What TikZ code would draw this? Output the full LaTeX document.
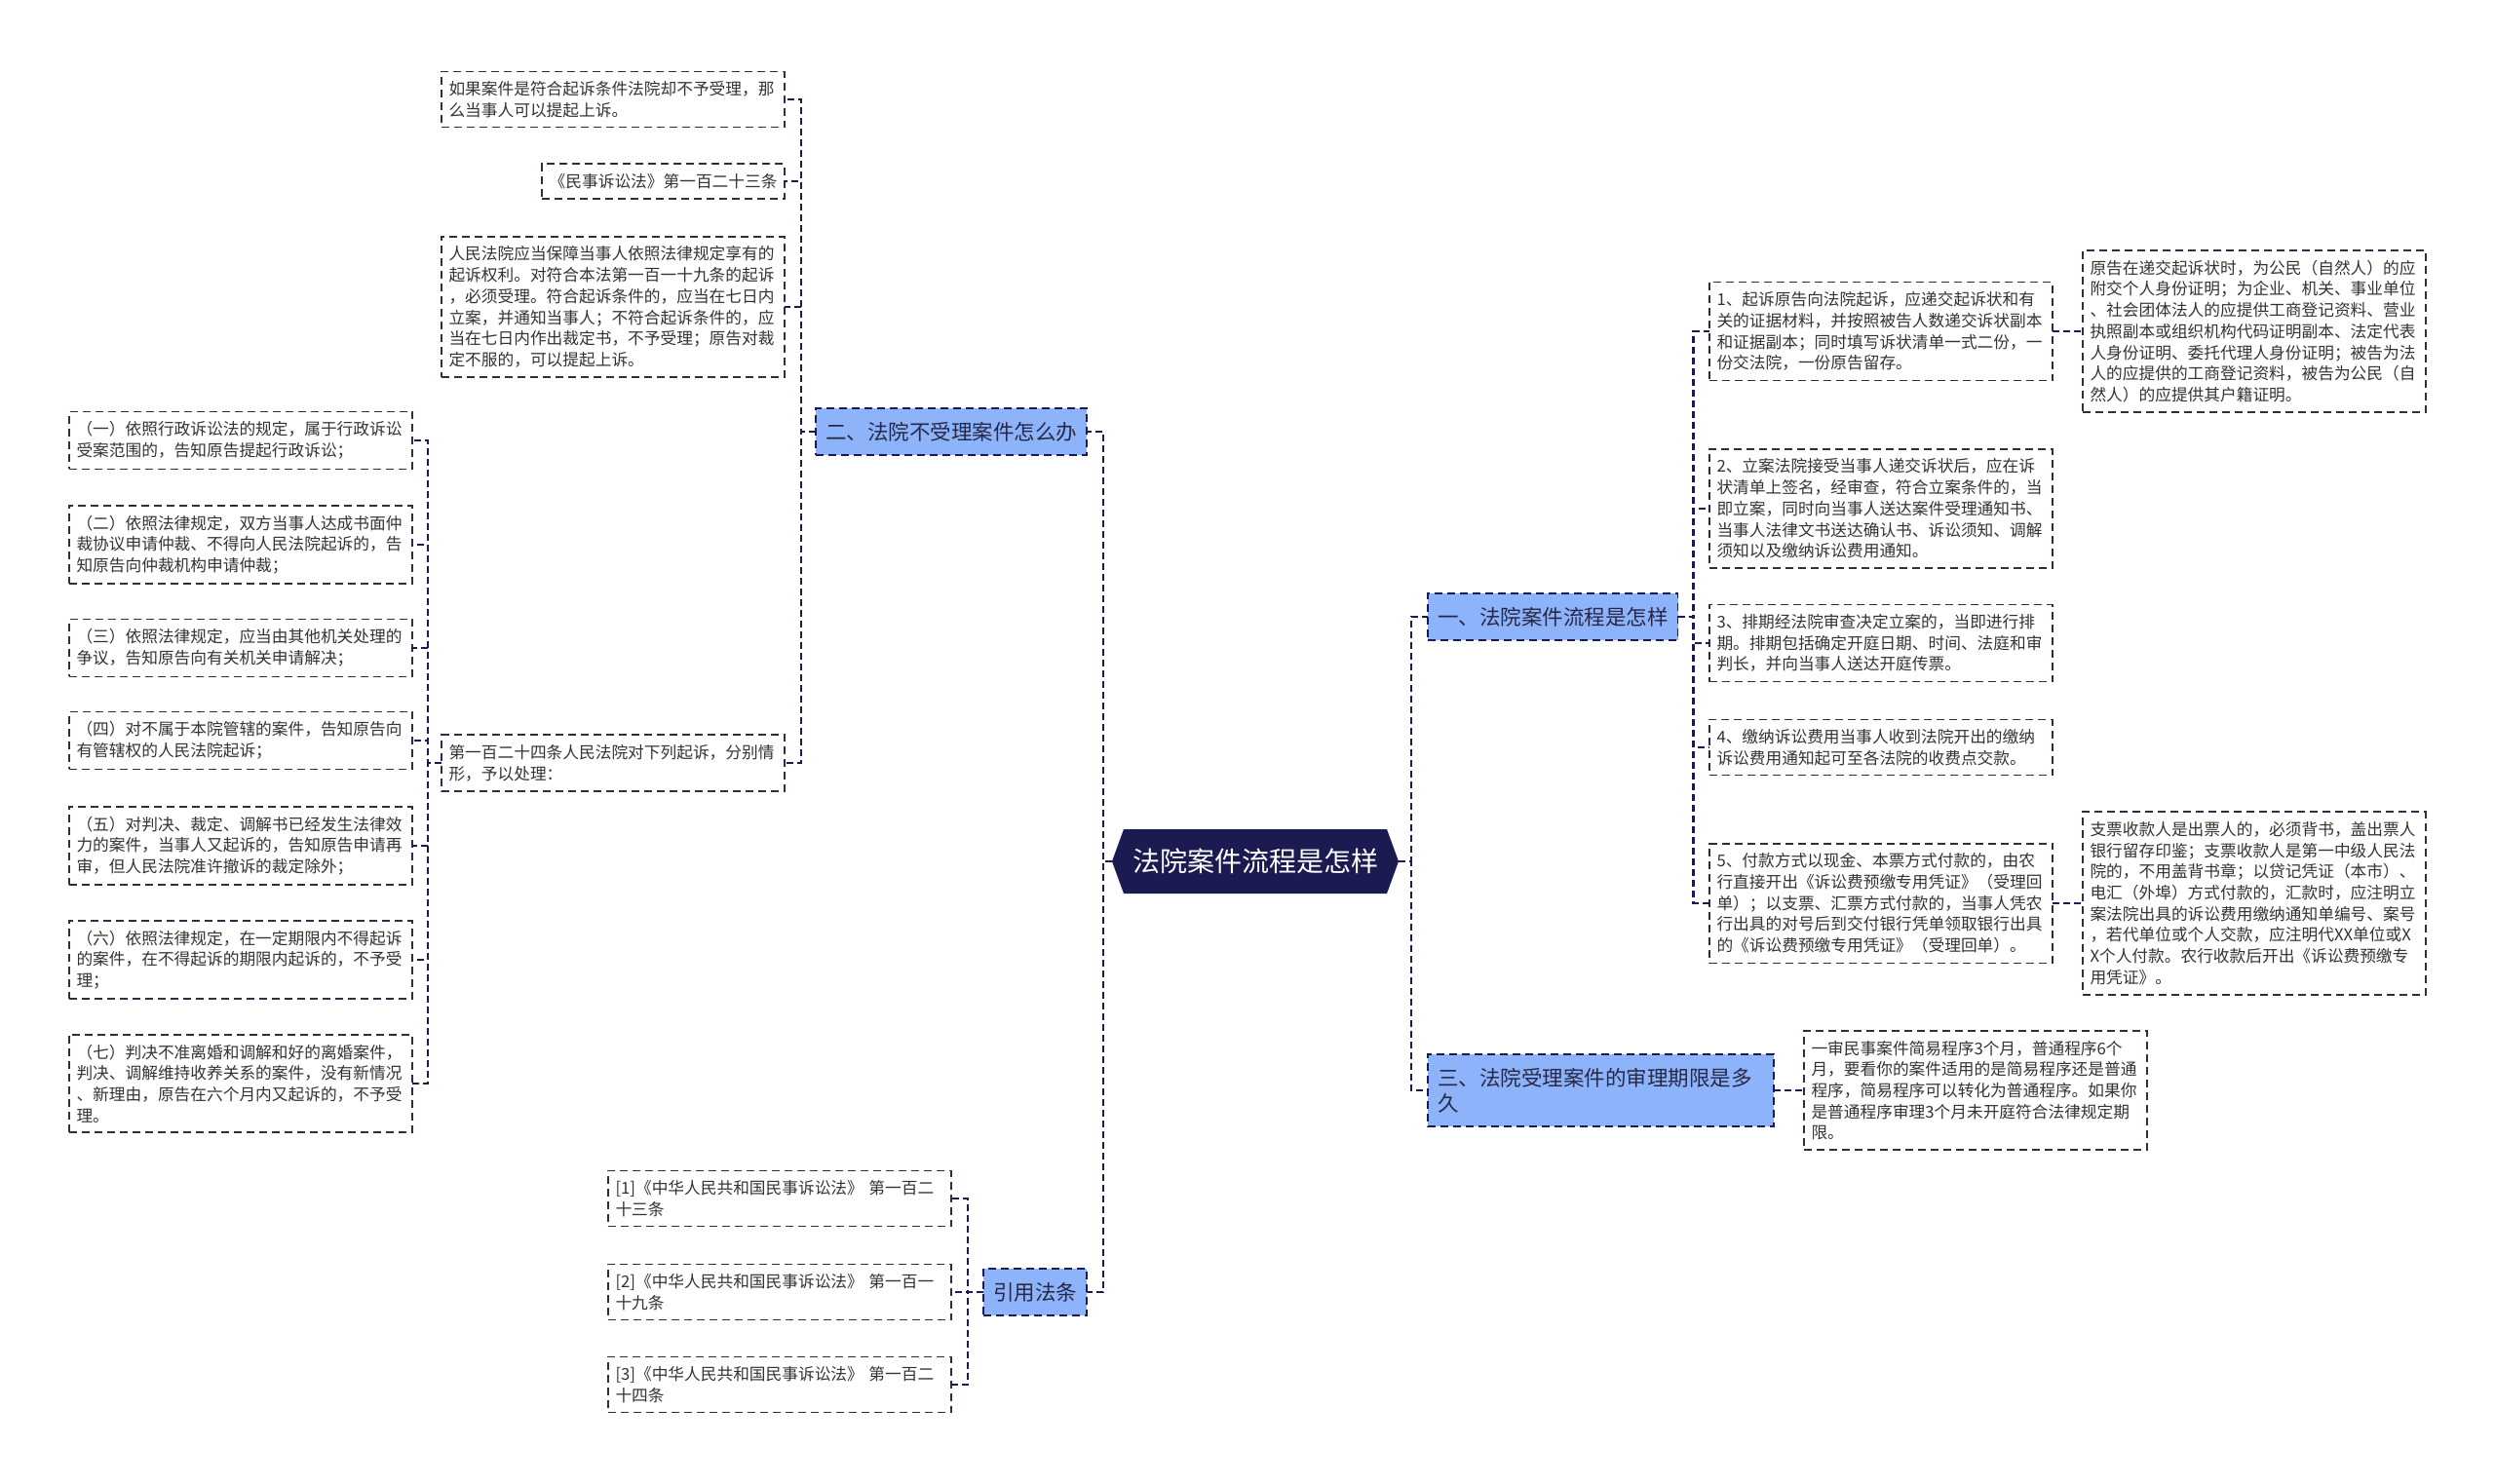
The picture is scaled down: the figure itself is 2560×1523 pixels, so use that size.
\documentclass[tikz,border=0pt]{standalone}
\usepackage{fontspec}
\newfontfamily\cjk{Noto Sans CJK SC}
\usetikzlibrary{positioning,shapes.symbols}
\definecolor{navy}{RGB}{27,27,82}
\definecolor{branchblue}{RGB}{141,179,250}
\definecolor{leafline}{RGB}{45,45,70}
\definecolor{leaftext}{RGB}{51,51,51}
\definecolor{branchtext}{RGB}{40,40,70}

\begin{document}
\begin{tikzpicture}[x=1pt,y=-1pt,
  shortleaf/.style={draw=leafline,line width=1.6pt,dash pattern=on 8pt off 5pt,fill=white,align=left,
    inner xsep=7.5pt,inner ysep=10pt,outer sep=0pt,text=leaftext,font=\cjk\fontsize{16.7}{21.7}\selectfont},
  leaf/.style={shortleaf,text width=337pt},
  branch/.style={draw=navy,line width=1.8pt,dash pattern=on 8pt off 5pt,fill=branchblue,align=left,
    inner xsep=10pt,inner ysep=14pt,outer sep=0pt,text=branchtext,font=\cjk\fontsize{21.5}{26}\selectfont},
  rootnode/.style={signal,signal to=west and east,signal pointer angle=140,fill=navy,text=white,
    inner xsep=9pt,inner ysep=20pt,outer sep=0pt,font=\cjk\fontsize{28}{32}\selectfont},
  link/.style={draw=navy,line width=2.4pt,dash pattern=on 7pt off 4pt}]
\fill[white] (0,0) rectangle (2560,1523);
\useasboundingbox (0,0) rectangle (2560,1523);

% centre and main branches
\node[rootnode] (root) at (1288,884) {法院案件流程是怎样};
\node[branch,anchor=west] (b1) at (1465,633) {一、法院案件流程是怎样};
\node[branch,anchor=east] (b2) at (1115,443) {二、法院不受理案件怎么办};
\node[branch,anchor=west,text width=335pt] (b3) at (1465,1119) {三、法院受理案件的审理期限是多\\久};
\node[branch,anchor=east] (b4) at (1115,1326) {引用法条};

% branch 1
\node[leaf,anchor=west] (s1) at (1754,340) {1、起诉原告向法院起诉，应递交起诉状和有\\关的证据材料，并按照被告人数递交诉状副本\\和证据副本；同时填写诉状清单一式二份，一\\份交法院，一份原告留存。};
\node[leaf,anchor=west] (s2) at (1754,522) {2、立案法院接受当事人递交诉状后，应在诉\\状清单上签名，经审查，符合立案条件的，当\\即立案，同时向当事人送达案件受理通知书、\\当事人法律文书送达确认书、诉讼须知、调解\\须知以及缴纳诉讼费用通知。};
\node[leaf,anchor=west] (s3) at (1754,660) {3、排期经法院审查决定立案的，当即进行排\\期。排期包括确定开庭日期、时间、法庭和审\\判长，并向当事人送达开庭传票。};
\node[leaf,anchor=west] (s4) at (1754,767) {4、缴纳诉讼费用当事人收到法院开出的缴纳\\诉讼费用通知起可至各法院的收费点交款。};
\node[leaf,anchor=west] (s5) at (1754,927) {5、付款方式以现金、本票方式付款的，由农\\行直接开出《诉讼费预缴专用凭证》（受理回\\单）；以支票、汇票方式付款的，当事人凭农\\行出具的对号后到交付银行凭单领取银行出具\\的《诉讼费预缴专用凭证》（受理回单）。};
\node[leaf,anchor=west] (r1) at (2137,340) {原告在递交起诉状时，为公民（自然人）的应\\附交个人身份证明；为企业、机关、事业单位\\、社会团体法人的应提供工商登记资料、营业\\执照副本或组织机构代码证明副本、法定代表\\人身份证明、委托代理人身份证明；被告为法\\人的应提供的工商登记资料，被告为公民（自\\然人）的应提供其户籍证明。};
\node[leaf,anchor=west] (r5) at (2137,927) {支票收款人是出票人的，必须背书，盖出票人\\银行留存印鉴；支票收款人是第一中级人民法\\院的，不用盖背书章；以贷记凭证（本市）、\\电汇（外埠）方式付款的，汇款时，应注明立\\案法院出具的诉讼费用缴纳通知单编号、案号\\，若代单位或个人交款，应注明代XX单位或X\\X个人付款。农行收款后开出《诉讼费预缴专\\用凭证》。};

% branch 2
\node[leaf,anchor=east] (a1) at (805,102) {如果案件是符合起诉条件法院却不予受理，那\\么当事人可以提起上诉。};
\node[shortleaf,anchor=east] (a2) at (805,186) {《民事诉讼法》第一百二十三条};
\node[leaf,anchor=east] (a3) at (805,315) {人民法院应当保障当事人依照法律规定享有的\\起诉权利。对符合本法第一百一十九条的起诉\\，必须受理。符合起诉条件的，应当在七日内\\立案，并通知当事人；不符合起诉条件的，应\\当在七日内作出裁定书，不予受理；原告对裁\\定不服的，可以提起上诉。};
\node[leaf,anchor=east] (a4) at (805,783) {第一百二十四条人民法院对下列起诉，分别情\\形，予以处理：};
\node[leaf,anchor=east] (q1) at (423,452) {（一）依照行政诉讼法的规定，属于行政诉讼\\受案范围的，告知原告提起行政诉讼；};
\node[leaf,anchor=east] (q2) at (423,559) {（二）依照法律规定，双方当事人达成书面仲\\裁协议申请仲裁、不得向人民法院起诉的，告\\知原告向仲裁机构申请仲裁；};
\node[leaf,anchor=east] (q3) at (423,665) {（三）依照法律规定，应当由其他机关处理的\\争议，告知原告向有关机关申请解决；};
\node[leaf,anchor=east] (q4) at (423,760) {（四）对不属于本院管辖的案件，告知原告向\\有管辖权的人民法院起诉；};
\node[leaf,anchor=east] (q5) at (423,868) {（五）对判决、裁定、调解书已经发生法律效\\力的案件，当事人又起诉的，告知原告申请再\\审，但人民法院准许撤诉的裁定除外；};
\node[leaf,anchor=east] (q6) at (423,985) {（六）依照法律规定，在一定期限内不得起诉\\的案件，在不得起诉的期限内起诉的，不予受\\理；};
\node[leaf,anchor=east] (q7) at (423,1112) {（七）判决不准离婚和调解和好的离婚案件，\\判决、调解维持收养关系的案件，没有新情况\\、新理由，原告在六个月内又起诉的，不予受\\理。};

% branch 3
\node[leaf,anchor=west] (t1) at (1851,1119) {一审民事案件简易程序3个月，普通程序6个\\月，要看你的案件适用的是简易程序还是普通\\程序，简易程序可以转化为普通程序。如果你\\是普通程序审理3个月未开庭符合法律规定期\\限。};

% citations
\node[leaf,anchor=east] (c1) at (976,1230) {[1]《中华人民共和国民事诉讼法》 第一百二\\十三条};
\node[leaf,anchor=east] (c2) at (976,1326) {[2]《中华人民共和国民事诉讼法》 第一百一\\十九条};
\node[leaf,anchor=east] (c3) at (976,1421) {[3]《中华人民共和国民事诉讼法》 第一百二\\十四条};

% connectors
\draw[link] (root.east) -- ++(13,0) |- (b1.west);
\draw[link] (root.east) -- ++(13,0) |- (b3.west);
\draw[link] (root.west) -- ++(-9,0) |- (b2.east);
\draw[link] (root.west) -- ++(-9,0) |- (b4.east);
\draw[link] (b1.east) -- ++(16,0) |- (s1.west);
\draw[link] (b1.east) -- ++(16,0) |- (s2.west);
\draw[link] (b1.east) -- ++(16,0) |- (s3.west);
\draw[link] (b1.east) -- ++(16,0) |- (s4.west);
\draw[link] (b1.east) -- ++(16,0) |- (s5.west);
\draw[link] (s1.east) -- ++(15,0) |- (r1.west);
\draw[link] (s5.east) -- ++(15,0) |- (r5.west);
\draw[link] (b2.west) -- ++(-15,0) |- (a1.east);
\draw[link] (b2.west) -- ++(-15,0) |- (a2.east);
\draw[link] (b2.west) -- ++(-15,0) |- (a3.east);
\draw[link] (b2.west) -- ++(-15,0) |- (a4.east);
\draw[link] (a4.west) -- ++(-14,0) |- (q1.east);
\draw[link] (a4.west) -- ++(-14,0) |- (q2.east);
\draw[link] (a4.west) -- ++(-14,0) |- (q3.east);
\draw[link] (a4.west) -- ++(-14,0) |- (q4.east);
\draw[link] (a4.west) -- ++(-14,0) |- (q5.east);
\draw[link] (a4.west) -- ++(-14,0) |- (q6.east);
\draw[link] (a4.west) -- ++(-14,0) |- (q7.east);
\draw[link] (b3.east) -- ++(15,0) |- (t1.west);
\draw[link] (b4.west) -- ++(-16,0) |- (c1.east);
\draw[link] (b4.west) -- ++(-16,0) |- (c2.east);
\draw[link] (b4.west) -- ++(-16,0) |- (c3.east);
\end{tikzpicture}
\end{document}
